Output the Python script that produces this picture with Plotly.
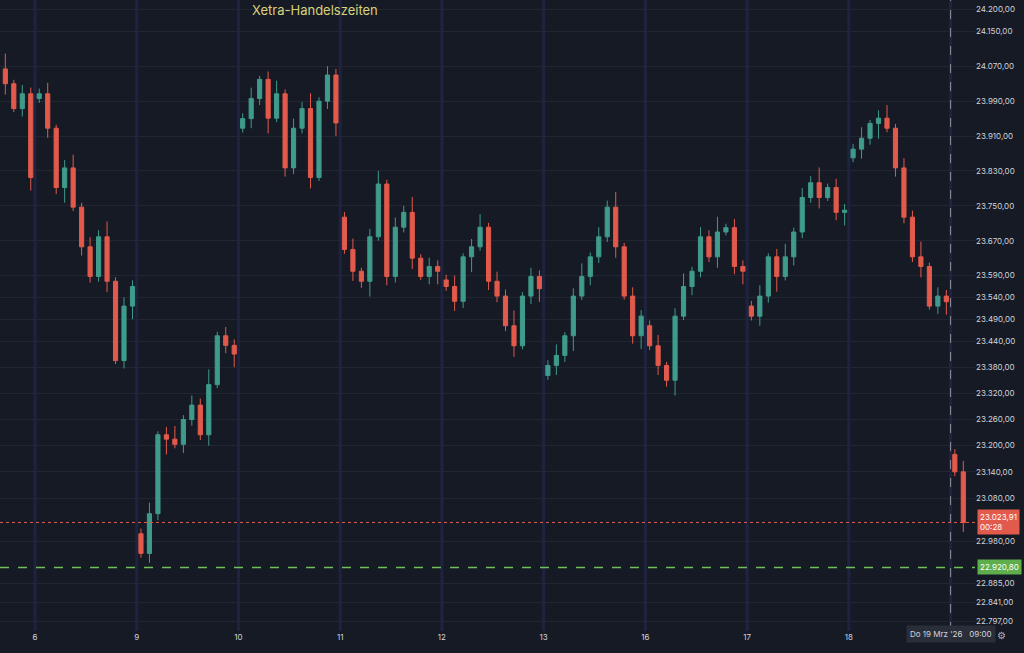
import plotly.graph_objects as go

# closes per session (index 0 = day 6); day 5 only its visible tail
day5_open = 24064
day5_close = [24030, 23973, 24007, 23815]
day_labels = ["6", "9", "10", "11", "12", "13", "16", "17", "18", ""]
day_opens = [23996, 22998, 23928, 23724, 23580, 23361, 23475, 23520, 23860, 23180]
day_closes = [
    [24007, 23928, 23792, 23837, 23747, 23656, 23588, 23679, 23577, 23395, 23520, 23565],
    [22953, 23044, 23225, 23215, 23203, 23260, 23293, 23225, 23340, 23452, 23430, 23410],
    [23950, 23996, 24040, 23951, 24007, 23837, 23928, 23973, 23815, 23990, 24050, 23940],
    [23650, 23600, 23577, 23679, 23800, 23588, 23701, 23735, 23630, 23588, 23611, 23600],
    [23565, 23531, 23633, 23656, 23701, 23577, 23543, 23475, 23429, 23543, 23588, 23560],
    [23384, 23407, 23452, 23543, 23588, 23633, 23679, 23747, 23656, 23543, 23452, 23497],
    [23429, 23384, 23350, 23497, 23565, 23600, 23679, 23633, 23690, 23700, 23611, 23600],
    [23497, 23543, 23633, 23588, 23633, 23690, 23769, 23803, 23769, 23792, 23735, 23740],
    [23880, 23905, 23939, 23951, 23928, 23837, 23724, 23633, 23611, 23520, 23543, 23530],
    [23140, 23023.91],
]
wicks = [12, 25, 8, 18, 30, 10, 22, 15, 35, 9, 20, 14]
last_price = 23023.91
green_level = 22920.80
ytick_vals = [24200, 24150, 24070, 23990, 23910, 23830, 23750, 23670, 23590, 23540, 23490,
              23440, 23380, 23320, 23260, 23200, 23140, 23080, 22980, 22885, 22841, 22797]

N = 12
X, O, H, L, C = [], [], [], [], []


def add_day(k, start, op, closes):
    prev = op
    for j, c in enumerate(closes):
        i = start + j
        X.append(k + (i + 0.5) / N)
        O.append(prev)
        C.append(c)
        w = wicks[i % len(wicks)]
        H.append(max(prev, c) + w)
        L.append(min(prev, c) - wicks[(i + 5) % len(wicks)])
        prev = c


add_day(-1, 8, day5_open, day5_close)
for k, (op, cl) in enumerate(zip(day_opens, day_closes)):
    add_day(k, 0, op, cl)

up, down = "#3f9b8b", "#e25a4b"
fig = go.Figure(go.Candlestick(
    x=X, open=O, high=H, low=L, close=C,
    increasing=dict(line=dict(color=up, width=1), fillcolor=up),
    decreasing=dict(line=dict(color=down, width=1), fillcolor=down),
    whiskerwidth=0, showlegend=False))

# session separators
for k in range(len(day_labels)):
    fig.add_vline(x=k, line=dict(color="rgba(45,50,110,0.4)", width=3), layer="below")
fig.add_vline(x=9.0, line=dict(color="#8a8f9c", width=1, dash="dash"))

fig.add_hline(y=last_price, line=dict(color=down, width=1, dash="dot"))
fig.add_hline(y=green_level, line=dict(color="#6fbf5a", width=1.5, dash="dash"))

fmt = lambda v: f"{v:,.2f}".replace(",", "X").replace(".", ",").replace("X", ".")

fig.add_annotation(x=1, xref="paper", y=last_price, yref="y", xanchor="left", xshift=2,
                   text=fmt(last_price) + "<br>00:28", showarrow=False, align="left",
                   bgcolor=down, font=dict(color="white", size=8), borderpad=2)
fig.add_annotation(x=1, xref="paper", y=green_level, yref="y", xanchor="left", xshift=2,
                   text=fmt(green_level), showarrow=False,
                   bgcolor="#5fae4c", font=dict(color="white", size=8), borderpad=2)
fig.add_annotation(x=2.75, y=1, yref="paper", yanchor="top", text="Xetra-Handelszeiten",
                   showarrow=False, font=dict(color="#d8d27a", size=13))
fig.add_annotation(x=9.0, y=0, yref="paper", yshift=-12, text="Do 19 Mrz '26   09:00",
                   showarrow=False, bgcolor="#2a2e39", font=dict(color="#d1d4dc", size=8),
                   borderpad=3)
fig.add_annotation(x=1, xref="paper", y=0, yref="paper", xanchor="left", xshift=20,
                   yshift=-12, text="⚙", showarrow=False, font=dict(color="#b0b3bc", size=10))

fig.update_layout(
    width=1024, height=653,
    margin=dict(l=0, r=49, t=0, b=22, autoexpand=False),
    paper_bgcolor="#161a25", plot_bgcolor="#161a25",
    font=dict(family="Inter, Roboto, sans-serif", color="#d1d4dc", size=8),
    xaxis=dict(range=[-0.344, 9.24], rangeslider=dict(visible=False), automargin=False,
               tickvals=list(range(len(day_labels))), ticktext=day_labels,
               showgrid=False, zeroline=False, ticks=""),
    yaxis=dict(side="right", range=[22775, 24222], tickvals=ytick_vals, automargin=False,
               ticktext=[fmt(v) for v in ytick_vals], gridcolor="#222633",
               zeroline=False, ticks=""),
)

fig.write_html("out.html", config={"displayModeBar": False},
               post_script="document.body.style.margin='0';")
